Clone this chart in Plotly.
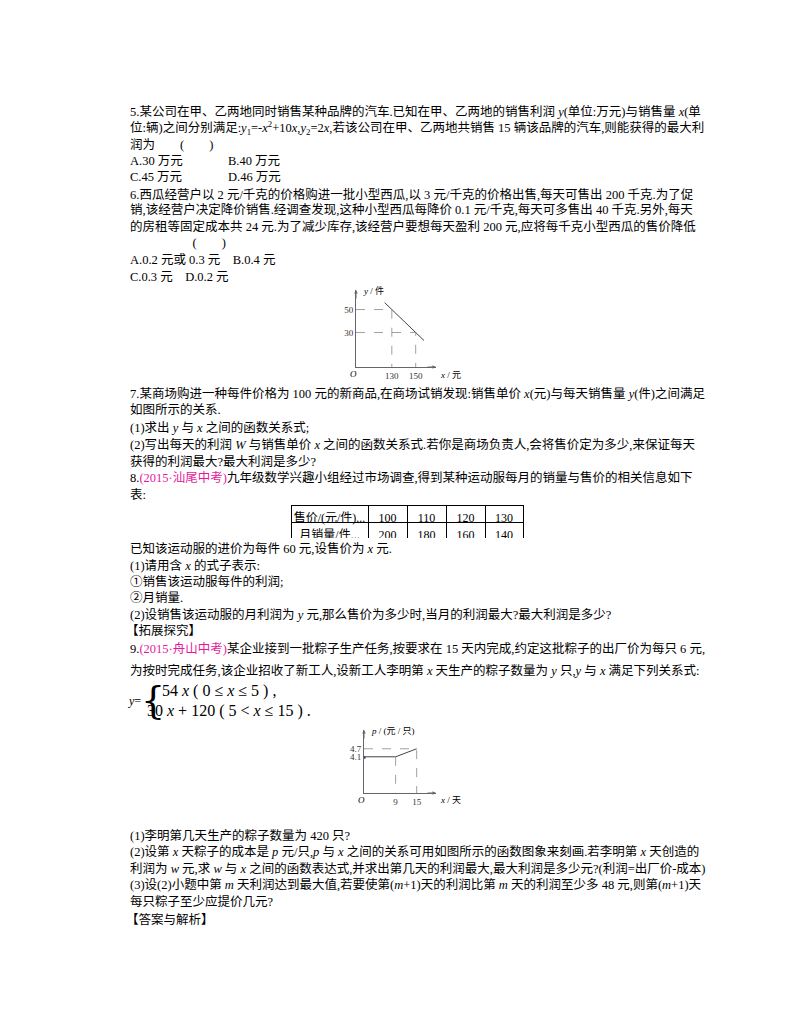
import plotly.graph_objects as go

W, H = 800, 1028
FONT = "Liberation Serif, Noto Sans CJK SC"
PINK = "#e6199b"

# graph for question 7: price x (元) vs daily sales y (件)
g1_line_x = [124, 157]
g1_line_y = [56, 23]
g1_xticks = [130, 150]
g1_yticks = [30, 50]

# graph for question 9: day x vs cost p (元/只)
g2_line_x = [0, 9, 15]
g2_line_y = [4.1, 4.1, 4.7]
g2_xticks = [9, 15]
g2_yticks = [4.1, 4.7]

# table for question 8
tbl_head = ["售价/(元/件)...", "100", "110", "120", "130"]
tbl_row = ["月销量/件...", "200", "180", "160", "140"]

lines = [
    (120, 104, "5.某公司在甲、乙两地同时销售某种品牌的汽车.已知在甲、乙两地的销售利润 <i>y</i>(单位:万元)与销售量 <i>x</i>(单"),
    (120, 120, "位:辆)之间分别满足:<i>y</i><sub>1</sub>=-<i>x</i><sup>2</sup>+10<i>x</i>,<i>y</i><sub>2</sub>=2<i>x</i>,若该公司在甲、乙两地共销售 15 辆该品牌的汽车,则能获得的最大利"),
    (120, 137, "润为　　(　　)"),
    (120, 153, "A.30 万元"), (218, 153, "B.40 万元"),
    (120, 169, "C.45 万元"), (218, 169, "D.46 万元"),
    (120, 186, "6.西瓜经营户以 2 元/千克的价格购进一批小型西瓜,以 3 元/千克的价格出售,每天可售出 200 千克.为了促"),
    (120, 202, "销,该经营户决定降价销售.经调查发现,这种小型西瓜每降价 0.1 元/千克,每天可多售出 40 千克.另外,每天"),
    (120, 218, "的房租等固定成本共 24 元.为了减少库存,该经营户要想每天盈利 200 元,应将每千克小型西瓜的售价降低"),
    (120, 235, "　　　　　(　　)"),
    (120, 252, "A.0.2 元或 0.3 元　B.0.4 元"),
    (120, 269, "C.0.3 元　D.0.2 元"),
    (120, 385, "7.某商场购进一种每件价格为 100 元的新商品,在商场试销发现:销售单价 <i>x</i>(元)与每天销售量 <i>y</i>(件)之间满足"),
    (120, 402, "如图所示的关系."),
    (120, 419, "(1)求出 <i>y</i> 与 <i>x</i> 之间的函数关系式;"),
    (120, 436, "(2)写出每天的利润 <i>W</i> 与销售单价 <i>x</i> 之间的函数关系式.若你是商场负责人,会将售价定为多少,来保证每天"),
    (120, 453, "获得的利润最大?最大利润是多少?"),
    (120, 470, "8.<span style='color:%s'>(2015·汕尾中考)</span>九年级数学兴趣小组经过市场调查,得到某种运动服每月的销量与售价的相关信息如下" % PINK),
    (120, 487, "表:"),
    (120, 540, "已知该运动服的进价为每件 60 元,设售价为 <i>x</i> 元."),
    (120, 557, "(1)请用含 <i>x</i> 的式子表示:"),
    (120, 573, "①销售该运动服每件的利润;"),
    (120, 590, "②月销量."),
    (120, 606, "(2)设销售该运动服的月利润为 <i>y</i> 元,那么售价为多少时,当月的利润最大?最大利润是多少?"),
    (116, 622, "【拓展探究】"),
    (120, 640, "9.<span style='color:%s'>(2015·舟山中考)</span>某企业接到一批粽子生产任务,按要求在 15 天内完成,约定这批粽子的出厂价为每只 6 元," % PINK),
    (120, 662, "为按时完成任务,该企业招收了新工人,设新工人李明第 <i>x</i> 天生产的粽子数量为 <i>y</i> 只,<i>y</i> 与 <i>x</i> 满足下列关系式:"),
    (120, 827, "(1)李明第几天生产的粽子数量为 420 只?"),
    (120, 843, "(2)设第 <i>x</i> 天粽子的成本是 <i>p</i> 元/只,<i>p</i> 与 <i>x</i> 之间的关系可用如图所示的函数图象来刻画.若李明第 <i>x</i> 天创造的"),
    (120, 860, "利润为 <i>w</i> 元,求 <i>w</i> 与 <i>x</i> 之间的函数表达式,并求出第几天的利润最大,最大利润是多少元?(利润=出厂价-成本)"),
    (120, 876, "(3)设(2)小题中第 <i>m</i> 天利润达到最大值,若要使第(<i>m</i>+1)天的利润比第 <i>m</i> 天的利润至少多 48 元,则第(<i>m</i>+1)天"),
    (120, 893, "每只粽子至少应提价几元?"),
    (116, 911, "【答案与解析】"),
]

fig = go.Figure()


def px(x):
    return x / W


def py(y):
    return 1 - y / H


anns = []


def txt(x, y, s, size=12.5, family=FONT):
    anns.append(dict(x=px(x), y=py(y), xref="paper", yref="paper", text=s, showarrow=False,
                     xanchor="left", yanchor="middle", font=dict(family=family, size=size, color="black")))


for x, y, s in lines:
    txt(x, y, s)

# piecewise formula
txt(118, 693, "<i>y</i>=", size=12)
txt(131, 692, "{", size=38, family="DejaVu Serif")
txt(152, 683, "54 <i>x</i> ( 0 ≤ <i>x</i> ≤ 5 ) ,", size=16)
txt(137, 703, "30 <i>x</i> + 120 ( 5 < <i>x</i> ≤ 15 ) .", size=16)

gray = "#666"
# graph 1
fig.add_trace(go.Scatter(x=g1_line_x, y=g1_line_y, mode="lines", line=dict(color="#444", width=1),
                         xaxis="x", yaxis="y", showlegend=False))
for xv, yv in zip(g1_xticks, [g1_yticks[1], g1_yticks[0]]):
    fig.add_trace(go.Scatter(x=[100, xv, xv], y=[yv, yv, 0], mode="lines",
                             line=dict(color="#888", width=0.8, dash="dash"),
                             xaxis="x", yaxis="y", showlegend=False))
# graph 2
fig.add_trace(go.Scatter(x=g2_line_x, y=g2_line_y, mode="lines", line=dict(color="#444", width=1),
                         xaxis="x2", yaxis="y2", showlegend=False))
fig.add_trace(go.Scatter(x=[0, g2_xticks[1], g2_xticks[1]], y=[g2_yticks[1], g2_yticks[1], 1.4], mode="lines",
                         line=dict(color="#888", width=0.8, dash="dash"), xaxis="x2", yaxis="y2", showlegend=False))
fig.add_trace(go.Scatter(x=[g2_xticks[0], g2_xticks[0]], y=[g2_yticks[0], 1.4], mode="lines",
                         line=dict(color="#888", width=0.8, dash="dash"), xaxis="x2", yaxis="y2", showlegend=False))
fig.add_trace(go.Scatter(x=[0, 0], y=[3.95, 4.15], mode="lines", line=dict(color="#3a3a8a", width=3),
                         xaxis="x2", yaxis="y2", showlegend=False))

axfont = dict(family=FONT, size=9, color="#333")
ax_common = dict(showline=True, linecolor=gray, linewidth=1, showgrid=False, zeroline=False,
                 ticks="", tickfont=axfont, fixedrange=True)

# table
fig.add_trace(go.Table(
    domain=dict(x=[px(283), px(515)], y=[py(531), py(497)]),
    columnwidth=[77, 39, 39, 39, 38],
    header=dict(values=tbl_head, height=17, align="center", fill_color="white",
                line=dict(color="black", width=1), font=dict(family=FONT, size=12, color="black")),
    cells=dict(values=[[v] for v in tbl_row], height=17, align="center", fill_color="white",
               line=dict(color="black", width=1), font=dict(family=FONT, size=12, color="black")),
))

# axis arrows (ax/ay are pixel offsets of the tail)
for (x1, y1, dx, dy) in [(348, 282, 0, 10), (428, 359, -10, 0), (356, 722, 0, 10), (428, 785, -10, 0)]:
    anns.append(dict(x=px(x1), y=py(y1), ax=dx, ay=dy, xref="paper", yref="paper",
                     showarrow=True, arrowhead=2, arrowsize=0.7,
                     arrowwidth=1, arrowcolor=gray, text=""))
txt(353, 282, "<i>y</i> / 件", size=9)
txt(430, 367, "<i>x</i> / 元", size=9)
txt(340, 366, "<i>O</i>", size=9)
txt(361, 723, "<i>p</i> / (元 / 只)", size=9)
txt(430, 792, "<i>x</i> / 天", size=9)
txt(348, 792, "<i>O</i>", size=9)

fig.update_layout(
    width=W, height=H, margin=dict(l=0, r=0, t=0, b=0),
    paper_bgcolor="white", plot_bgcolor="rgba(0,0,0,0)",
    xaxis=dict(domain=[px(348), px(428)], range=[100, 167], tickvals=g1_xticks, **ax_common),
    yaxis=dict(domain=[py(359), py(282)], range=[0, 67], tickvals=g1_yticks, **ax_common),
    xaxis2=dict(domain=[px(356), px(428)], range=[0, 20.5], tickvals=g2_xticks, anchor="y2", **ax_common),
    yaxis2=dict(domain=[py(785), py(722)], range=[1.4, 6.1], tickvals=g2_yticks, ticktext=["4.1", "4.7"],
                anchor="x2", **ax_common),
    annotations=anns,
)

fig.write_html("out.html")
